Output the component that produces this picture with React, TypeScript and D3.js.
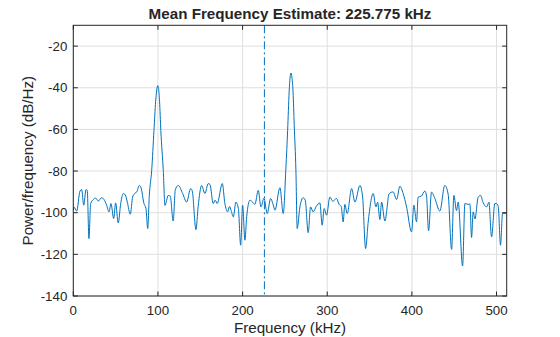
import React from "react";
import * as d3 from "d3";

const freqKHz = [
  0, 0.8, 4, 7.9, 9.9, 12.3, 15, 16.5, 18.5, 20.5, 23.6, 26.5, 29.5, 33.5, 36, 39.4, 42.2, 44.5, 47.7, 50,
  53.1, 56, 59.1, 61.5, 63.8, 67.3, 70.1, 72.9, 75, 78, 80, 83.5, 85.9, 87.9, 89.8, 92.6, 95.3, 97.3, 98.6, 99.7,
  100.8, 101.9, 103.4, 106.3, 108.3, 112.2, 114.5, 118, 120.5, 124, 129.2, 133.9, 138.6, 140.5, 144.9, 147.5, 151.6,
  155.5, 159.4, 161.5, 165.3, 167.5, 170, 176, 179.1, 182.3, 184.5, 186.5, 189, 192.1, 195, 197.7, 200, 202.8,
  204.8, 208.7, 212, 214.5, 218.5, 221.7, 225.2, 229.1, 233.1, 236, 238.2, 244.1, 248, 251.2, 253.2, 255, 256.1,
  257.1, 258.2, 259.6, 261, 263, 264.5, 267.7, 271.6, 274, 277.5, 280.3, 283.4, 287, 291.3, 294, 296.4, 299.2, 303.1,
  306.5, 311, 314, 316.5, 318.8, 320.8, 323.6, 328.8, 332.7, 338.6, 341.7, 345.3, 348.4, 354.3, 357.5, 359.5,
  362.2, 364.2, 368.1, 373.2, 377.8, 381.9, 385.8, 389.7, 393.7, 399.6, 402.3, 405.5, 407.4, 411.3, 415.3,
  417.3, 419.7, 423.2, 427, 433, 438.9, 442.8, 446.9, 449.6, 452.7, 454.7, 459.9, 462.6, 466.5, 468.5, 470.5,
  472.4, 474.5, 478.3, 481.1, 484, 488.2, 491, 494.1, 498, 500, 502, 504.7, 507.1, 509.9, 512,
];

const powerDb = [
  -98.8, -97.3, -99.2, -89.6, -88.9, -96.4, -88.9, -89.5, -112.4, -95.6, -93.7, -93, -94.4, -92.8, -93.5, -96.4,
  -99.6, -95.6, -102.8, -95.3, -104.9, -95.6, -90.8, -91.5, -94.9, -100.7, -92.5, -90.6, -90, -86.9, -88, -95.6,
  -98, -107.6, -91.7, -79.7, -60.5, -46.5, -41, -39, -40.5, -46.5, -60.5, -79.7, -96.5, -91.7, -92, -104, -89, -86.9, -90.8,
  -94.9, -88.4, -89.5, -108.1, -97, -86.9, -90.8, -86, -86.5, -95.6, -94, -95.6, -86, -95.6, -99.6, -97, -99,
  -102, -94.9, -98, -115.6, -96.4, -113.2, -102, -94, -95, -96, -89.3, -97.2, -93, -100.4, -93.2, -96, -98.8,
  -88, -100.4, -78.1, -60.5, -42, -35, -32.9, -34.8, -42, -58, -80, -107.6, -97.2, -92.8, -94, -109.6, -97.2, -99.6,
  -97, -95.3, -106, -98, -101.2, -92.5, -94.5, -93.2, -96, -97, -104.4, -96, -100.4, -88.4, -94.9, -86.9, -92,
  -117.2, -104.4, -90.8, -97.2, -95, -103.3, -94.9, -104, -90.8, -90, -93.7, -87.3, -90.8, -97.2, -109.2,
  -96.4, -104.4, -92.5, -92, -89.6, -92, -108.7, -90.1, -93, -99.2, -86.9, -91, -117.6, -91.7, -99, -94.9,
  -125.6, -95.6, -96, -95.8, -111.9, -99.6, -103, -92.5, -91.7, -95, -97.2, -95, -111.6, -95.6, -95.6, -97,
  -115.6, -100.4, -100.4, -100,
];

const xTicks = [0, 100, 200, 300, 400, 500];
const yTicks = [-140, -120, -100, -80, -60, -40, -20];
const meanFreq = [225.775];
const titleText = "Mean Frequency Estimate: 225.775 kHz";
const xLabel = "Frequency (kHz)";
const yLabel = "Power/frequency (dB/Hz)";

export default function App() {
  const W = 560, H = 337;
  const m = { left: 73.3, right: 506.7, top: 25.3, bottom: 296 };
  const x = d3.scaleLinear().domain([0, 512]).range([m.left, m.right]);
  const y = d3.scaleLinear().domain([-140, -10]).range([m.bottom, m.top]);
  const pts: [number, number][] = freqKHz.map((f, i) => [f, powerDb[i]]);
  const line = d3
    .line<[number, number]>()
    .x((d) => x(d[0]))
    .y((d) => y(d[1]))
    .curve(d3.curveMonotoneX);
  const axisColor = "#262626";
  const gridColor = "#dfdfdf";
  const font = "'Liberation Sans', Arial, Helvetica, sans-serif";
  const tickLen = 4.5;
  return (
    <svg
      width={W}
      height={H}
      style={{ position: "absolute", left: 0, top: 0, background: "#fff" }}
      fontFamily={font}
    >
      <rect x={0} y={0} width={W} height={H} fill="#fff" />
      {xTicks.map((t) => (
        <line key={"gx" + t} x1={x(t)} x2={x(t)} y1={m.top} y2={m.bottom} stroke={gridColor} strokeWidth={1} />
      ))}
      {yTicks.map((t) => (
        <line key={"gy" + t} x1={m.left} x2={m.right} y1={y(t)} y2={y(t)} stroke={gridColor} strokeWidth={1} />
      ))}
      <path d={line(pts) || ""} fill="none" stroke="#0072BD" strokeWidth={1} strokeLinejoin="round" />
      {meanFreq.map((f) => (
        <line
          key={"mf" + f}
          x1={x(f)}
          x2={x(f)}
          y1={m.top}
          y2={m.bottom}
          stroke="#0072BD"
          strokeWidth={1}
          strokeDasharray="8,3,2,3"
        />
      ))}
      <rect
        x={m.left}
        y={m.top}
        width={m.right - m.left}
        height={m.bottom - m.top}
        fill="none"
        stroke={axisColor}
        strokeWidth={1}
      />
      {xTicks.map((t) => (
        <g key={"xt" + t}>
          <line x1={x(t)} x2={x(t)} y1={m.bottom} y2={m.bottom - tickLen} stroke={axisColor} />
          <line x1={x(t)} x2={x(t)} y1={m.top} y2={m.top + tickLen} stroke={axisColor} />
          <text x={x(t)} y={m.bottom + 19} textAnchor="middle" fontSize={13.3} fill={axisColor}>
            {t}
          </text>
        </g>
      ))}
      {yTicks.map((t) => (
        <g key={"yt" + t}>
          <line x1={m.left} x2={m.left + tickLen} y1={y(t)} y2={y(t)} stroke={axisColor} />
          <line x1={m.right} x2={m.right - tickLen} y1={y(t)} y2={y(t)} stroke={axisColor} />
          <text x={m.left - 6} y={y(t) + 4.7} textAnchor="end" fontSize={13.3} fill={axisColor}>
            {t}
          </text>
        </g>
      ))}
      <text x={(m.left + m.right) / 2} y={19} textAnchor="middle" fontSize={15.2} fontWeight="bold" fill={axisColor}>
        {titleText}
      </text>
      <text x={(m.left + m.right) / 2} y={333} textAnchor="middle" fontSize={15.2} fill={axisColor}>
        {xLabel}
      </text>
      <text
        transform={`translate(33,${(m.top + m.bottom) / 2}) rotate(-90)`}
        textAnchor="middle"
        fontSize={15.2}
        fill={axisColor}
      >
        {yLabel}
      </text>
    </svg>
  );
}
